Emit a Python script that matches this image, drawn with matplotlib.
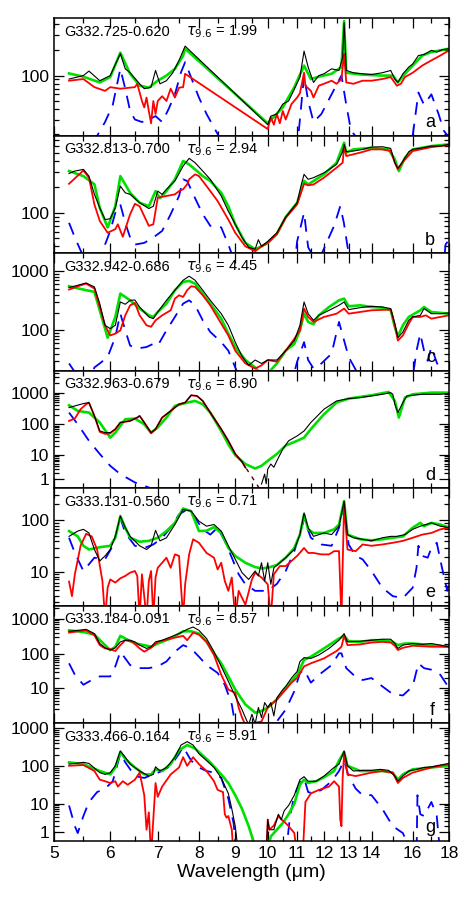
import numpy as np
import matplotlib
matplotlib.use("Agg")
import matplotlib.pyplot as plt
from matplotlib.ticker import FixedLocator, NullFormatter, FixedFormatter

plt.rcParams["font.family"] = ["Liberation Sans", "DejaVu Sans"]
plt.rcParams["mathtext.fontset"] = "dejavusans"

# ---- panel metadata ----
names = ["G332.725-0.620", "G332.813-0.700", "G332.942-0.686", "G332.963-0.679",
         "G333.131-0.560", "G333.184-0.091", "G333.466-0.164"]
taus = ["1.99", "2.94", "4.45", "6.90", "0.71", "6.57", "5.91"]
letters = ["a", "b", "c", "d", "e", "f", "g"]
ylims = [(19, 470), (33, 790), (20, 2000), (0, 4800), (1.56, 400), (0.14, 2300), (0.2, 1300)]
yticks = [[100], [100], [100, 1000], [1, 10, 100, 1000], [10, 100], [10, 100, 1000], [1, 10, 100, 1000]]
xticks = [5, 6, 7, 8, 9, 10, 11, 12, 13, 14, 16, 18]
xminor = [5.5, 6.5, 7.5, 8.5, 9.5, 10.5, 11.5, 12.5, 13.5, 15, 17]

# ---- spectra: (wavelength um, flux) ----
a_black = [(5.25, 91), (5.5, 100), (5.6, 113), (5.8, 87), (6.0, 100), (6.2, 181), (6.3, 120), (6.4, 108),
           (6.6, 80), (6.7, 70), (6.85, 73), (6.95, 115), (7.05, 80), (7.2, 87), (7.35, 108), (7.5, 151),
           (7.65, 222), (10.0, 26), (10.1, 33), (10.3, 35), (10.5, 46), (10.7, 50), (10.9, 69), (11.1, 96),
           (11.25, 194), (11.4, 126), (11.6, 83), (11.8, 100), (12.0, 105), (12.3, 120), (12.6, 115),
           (12.75, 165), (12.81, 416), (12.9, 115), (13.2, 108), (13.6, 105), (14.0, 103), (14.5, 108),
           (14.9, 115), (15.1, 91), (15.25, 83), (15.5, 105), (15.8, 126), (16.0, 137), (16.3, 172),
           (16.6, 177), (17.0, 198), (17.3, 189), (17.6, 201), (18.0, 207)]
a_green = [(5.25, 106), (5.5, 97), (5.8, 83), (6.0, 96), (6.2, 186), (6.4, 105), (6.6, 76), (6.8, 72),
           (7.0, 87), (7.2, 100), (7.4, 120), (7.6, 172), (7.65, 207), (10.0, 27), (10.5, 42), (10.9, 73),
           (11.25, 131), (11.5, 91), (11.8, 97), (12.3, 105), (12.7, 126), (12.81, 436), (12.9, 108),
           (13.5, 103), (14.5, 100), (15.0, 100), (15.25, 83), (15.6, 105), (16.0, 131), (16.5, 172),
           (17.0, 189), (17.5, 198), (18.0, 207)]
a_red = [(5.25, 87), (5.5, 91), (5.7, 73), (5.9, 66), (6.0, 73), (6.2, 70), (6.4, 72), (6.5, 73), (6.55, 80),
         (6.65, 50), (6.7, 42), (6.75, 55), (6.8, 38), (6.85, 27), (6.9, 50), (6.95, 35), (7.0, 50), (7.1, 57),
         (7.2, 50), (7.3, 70), (7.4, 55), (7.5, 72), (7.6, 73), (7.65, 105), (10.0, 23), (10.1, 32), (10.2, 26),
         (10.3, 35), (10.4, 27), (10.5, 38), (10.6, 30), (10.8, 46), (11.0, 55), (11.1, 62), (11.25, 108),
         (11.3, 76), (11.5, 66), (11.6, 55), (11.8, 76), (12.0, 80), (12.3, 87), (12.5, 80), (12.7, 91),
         (12.81, 181), (12.9, 83), (13.2, 80), (13.6, 87), (14.0, 87), (14.5, 91), (14.9, 96), (15.2, 76),
         (15.4, 80), (15.6, 96), (16.0, 108), (16.5, 131), (17.0, 151), (17.5, 172), (18.0, 198)]
a_blue = [(5.6, 8), (5.75, 19), (5.9, 28), (6.05, 45), (6.2, 120), (6.3, 70), (6.4, 38), (6.5, 30), (6.65, 28),
          (6.8, 30), (6.95, 33), (7.1, 28), (7.25, 40), (7.4, 60), (7.55, 110), (7.65, 144), (7.8, 95),
          (8.0, 55), (8.2, 35), (8.5, 20), (8.8, 10), (10.8, 8), (11.05, 20), (11.25, 100), (11.4, 50),
          (11.6, 28), (11.9, 35), (12.3, 60), (12.7, 100), (12.9, 45), (13.1, 22), (13.5, 16), (14.0, 18),
          (14.5, 12), (15.5, 10), (16.0, 19), (16.3, 63), (16.6, 45), (17.0, 60), (17.4, 35), (17.7, 22),
          (18.0, 18)]

b_black = [(5.25, 288), (5.35, 307), (5.5, 321), (5.6, 268), (5.7, 164), (5.8, 114), (5.9, 83), (6.0, 85),
           (6.1, 114), (6.2, 205), (6.3, 171), (6.4, 164), (6.6, 131), (6.8, 112), (6.9, 119), (7.0, 179),
           (7.1, 164), (7.2, 188), (7.4, 235), (7.6, 351), (7.75, 432), (7.9, 384), (8.1, 307), (8.3, 246),
           (8.6, 157), (8.8, 104), (9.0, 73), (9.2, 51), (9.4, 39), (9.6, 37), (9.7, 48), (9.8, 40), (10.0, 46),
           (10.3, 58), (10.6, 89), (11.0, 131), (11.15, 214), (11.25, 281), (11.4, 246), (11.6, 257),
           (12.0, 293), (12.5, 367), (12.75, 516), (12.81, 629), (12.9, 516), (13.2, 525), (13.6, 549),
           (14.0, 584), (14.5, 590), (14.9, 564), (15.1, 384), (15.25, 330), (15.5, 401), (15.8, 516),
           (16.0, 549), (16.5, 572), (17.0, 600), (17.5, 600), (18.0, 629)]
b_green = [(5.25, 307), (5.5, 268), (5.7, 215), (5.8, 114), (5.95, 67), (6.1, 119), (6.2, 268), (6.4, 171),
           (6.6, 131), (6.8, 119), (6.95, 179), (7.05, 148), (7.2, 179), (7.4, 246), (7.6, 402), (7.75, 367),
           (7.9, 321), (8.1, 268), (8.3, 235), (8.6, 171), (8.8, 119), (9.0, 73), (9.3, 44), (9.6, 37),
           (9.8, 40), (10.0, 44), (10.3, 56), (10.6, 89), (11.0, 131), (11.25, 235), (11.4, 214), (11.6, 235),
           (12.0, 281), (12.5, 384), (12.81, 657), (12.9, 504), (13.2, 549), (14.0, 572), (14.8, 549),
           (15.1, 420), (15.3, 307), (15.6, 439), (16.0, 549), (17.0, 600), (18.0, 629)]
b_red = [(5.25, 218), (5.5, 312), (5.6, 257), (5.7, 125), (5.8, 80), (5.95, 58), (6.1, 64), (6.15, 73),
         (6.25, 52), (6.4, 96), (6.5, 127), (6.6, 119), (6.8, 70), (6.9, 73), (7.0, 150), (7.2, 157), (7.4, 164),
         (7.5, 179), (7.6, 188), (7.7, 215), (7.75, 246), (7.9, 281), (8.0, 268), (8.2, 205), (8.5, 137),
         (8.8, 83), (9.0, 58), (9.3, 40), (9.6, 35), (9.8, 40), (10.0, 44), (10.3, 56), (10.6, 87), (11.0, 125),
         (11.25, 218), (11.4, 209), (11.6, 214), (12.0, 257), (12.5, 336), (12.75, 384), (12.81, 600),
         (12.9, 459), (13.5, 504), (14.0, 549), (14.5, 549), (14.9, 525), (15.1, 384), (15.25, 321),
         (15.5, 393), (16.0, 525), (17.0, 584), (18.0, 617)]
b_blue = [(5.25, 76), (5.35, 51), (5.5, 30), (5.8, 10), (5.9, 42), (6.0, 61), (6.1, 100), (6.2, 125), (6.3, 76),
          (6.4, 51), (6.5, 42), (6.7, 44), (6.9, 51), (7.1, 61), (7.3, 96), (7.5, 157), (7.6, 246), (7.7, 235),
          (7.9, 148), (8.1, 96), (8.3, 70), (8.5, 70), (8.6, 67), (8.8, 42), (9.0, 25), (10.8, 10), (11.0, 46),
          (11.25, 100), (11.4, 39), (11.6, 30), (11.9, 32), (12.4, 70), (12.65, 119), (12.8, 76), (12.95, 40),
          (13.1, 25), (17.7, 25), (17.8, 42), (18.0, 48)]

c_black = [(5.25, 530), (5.4, 580), (5.55, 634), (5.7, 544), (5.8, 284), (5.9, 122), (6.0, 107), (6.1, 122),
           (6.2, 303), (6.3, 277), (6.4, 323), (6.5, 327), (6.6, 249), (6.8, 169), (6.9, 158), (7.0, 205),
           (7.2, 323), (7.4, 478), (7.6, 705), (7.75, 824), (7.9, 705), (8.1, 478), (8.3, 323), (8.6, 192),
           (8.8, 122), (9.0, 63), (9.2, 36), (9.4, 25), (9.6, 31), (9.8, 27), (10.0, 31), (10.3, 31), (10.6, 45),
           (10.9, 67), (11.1, 122), (11.25, 303), (11.4, 192), (11.6, 148), (11.8, 180), (12.2, 219),
           (12.6, 266), (12.81, 303), (13.0, 225), (13.5, 243), (14.0, 256), (14.5, 249), (14.9, 234),
           (15.1, 130), (15.25, 75), (15.5, 94), (15.8, 148), (16.0, 169), (16.4, 180), (16.6, 234),
           (17.0, 192), (17.5, 192), (18.0, 197)]
c_green = [(5.25, 558), (5.5, 490), (5.7, 448), (5.8, 219), (5.95, 75), (6.1, 169), (6.2, 419), (6.4, 323),
           (6.6, 234), (6.8, 180), (6.9, 169), (7.0, 205), (7.2, 284), (7.4, 478), (7.6, 660), (7.75, 686),
           (7.9, 618), (8.1, 419), (8.3, 284), (8.6, 158), (8.8, 88), (9.0, 52), (9.3, 31), (9.6, 23), (9.8, 17),
           (10.0, 18), (10.3, 27), (10.6, 45), (10.9, 59), (11.1, 100), (11.25, 192), (11.4, 139), (11.6, 127),
           (11.8, 180), (12.2, 249), (12.6, 323), (12.81, 345), (13.0, 256), (13.5, 266), (14.0, 249),
           (14.5, 243), (14.9, 219), (15.1, 114), (15.25, 79), (15.5, 122), (15.8, 169), (16.4, 219),
           (16.6, 249), (17.0, 205), (18.0, 192)]
c_red = [(5.25, 490), (5.4, 558), (5.55, 618), (5.7, 510), (5.8, 249), (5.9, 122), (6.0, 82), (6.1, 88),
         (6.2, 100), (6.3, 180), (6.4, 266), (6.5, 292), (6.6, 180), (6.75, 122), (6.85, 115), (6.95, 148),
         (7.1, 180), (7.3, 219), (7.4, 345), (7.5, 393), (7.6, 368), (7.7, 478), (7.8, 558), (7.9, 544),
         (8.1, 393), (8.3, 266), (8.6, 130), (8.8, 82), (9.0, 45), (9.3, 27), (9.6, 22), (9.8, 25), (10.0, 31),
         (10.3, 29), (10.6, 45), (10.9, 72), (11.1, 100), (11.25, 234), (11.4, 169), (11.6, 139), (12.0, 169),
         (12.5, 192), (12.81, 234), (13.0, 192), (14.0, 219), (14.9, 225), (15.1, 122), (15.25, 67),
         (15.5, 82), (15.8, 130), (16.0, 169), (16.4, 169), (16.7, 180), (17.0, 158), (17.5, 169), (18.0, 180)]
c_blue = [(5.25, 27), (5.35, 19), (5.6, 12), (5.7, 23), (5.8, 27), (5.95, 35), (6.1, 77), (6.2, 192), (6.3, 100),
          (6.4, 55), (6.55, 49), (6.75, 52), (6.9, 59), (7.0, 55), (7.2, 100), (7.4, 169), (7.6, 284),
          (7.75, 323), (7.9, 266), (8.1, 148), (8.3, 94), (8.6, 63), (8.8, 45), (9.0, 23), (9.2, 12), (10.8, 12),
          (11.0, 29), (11.25, 63), (11.4, 31), (11.6, 22), (11.9, 27), (12.3, 40), (12.6, 139), (12.81, 67),
          (13.0, 35), (13.3, 21), (13.8, 15), (14.3, 22), (14.6, 15), (16.0, 15), (16.2, 45), (16.4, 88),
          (16.6, 45), (16.8, 30), (17.0, 52), (17.3, 28), (17.6, 17), (18.0, 12)]

d_black = [(5.25, 340), (5.35, 383), (5.5, 453), (5.6, 487), (5.7, 186), (5.8, 62), (5.9, 55), (6.0, 55),
           (6.1, 71), (6.2, 115), (6.4, 129), (6.55, 165), (6.6, 186), (6.7, 115), (6.85, 55), (6.95, 71),
           (7.1, 165), (7.3, 267), (7.5, 432), (7.65, 487), (7.8, 825), (7.95, 787), (8.1, 548), (8.3, 236),
           (8.6, 71), (8.8, 30), (9.0, 11), (9.2, 5.8), (9.3, 3.5), (9.35, np.nan), (9.75, np.nan), (9.8, 0.37),
           (9.9, 1.8), (9.95, 0.4), (10.0, 3.0), (10.1, 4.8), (10.2, 3.6), (10.3, 6.3), (10.5, 16), (10.7, 30),
           (11.0, 43), (11.25, 62), (11.5, 115), (12.0, 301), (12.5, 548), (13.0, 650), (13.5, 698),
           (14.0, 787), (14.5, 887), (14.9, 1000), (15.0, 887), (15.1, 432), (15.25, 236), (15.5, 487),
           (15.7, 787), (16.0, 825), (16.5, 887), (17.0, 887), (17.5, 887), (18.0, 953)]
d_gap = [(9.33, 3.2), (9.42, 2.0), (9.5, 1.3), (9.58, 0.7), (9.66, 0.3), (9.73, 0.0)]
d_green = [(5.25, 401), (5.4, 267), (5.6, 236), (5.8, 115), (6.0, 38), (6.1, 55), (6.3, 146), (6.5, 153),
           (6.7, 101), (6.85, 55), (7.0, 80), (7.2, 165), (7.4, 383), (7.7, 487), (7.9, 548), (8.1, 432),
           (8.3, 236), (8.6, 62), (8.8, 23), (9.0, 10), (9.3, 4.8), (9.6, 3.2), (9.8, 4.1), (10.0, 6.3),
           (10.3, 11), (10.6, 21), (11.0, 30), (11.25, 38), (11.5, 71), (12.0, 209), (12.5, 487), (13.0, 650),
           (14.0, 825), (14.8, 1049), (15.1, 548), (15.3, 165), (15.6, 698), (16.0, 887), (17.0, 1000),
           (18.0, 1000)]
d_red = [(5.25, 129), (5.35, 153), (5.45, 301), (5.55, 432), (5.6, 487), (5.7, 186), (5.8, 58), (5.9, 50),
         (6.0, 52), (6.1, 71), (6.2, 115), (6.4, 129), (6.55, 165), (6.6, 186), (6.7, 115), (6.85, 52),
         (6.95, 71), (7.1, 165), (7.3, 267), (7.5, 432), (7.65, 487), (7.8, 825), (7.95, 787), (8.1, 548),
         (8.3, 236), (8.6, 71), (8.8, 30), (9.0, 11), (9.2, 5.8), (9.3, 3.5)]
d_blue = [(5.25, 236), (5.4, 101), (5.6, 30), (5.8, 11), (6.0, 4.1), (6.2, 1.8), (6.5, 0.54), (6.8, 0.07),
          (7.0, -0.5)]

e_black = [(5.25, 50), (5.4, 63), (5.5, 68), (5.6, 58), (5.7, 28), (5.8, 16.7), (5.9, 21), (6.0, 28), (6.1, 50),
           (6.2, 121), (6.3, 73), (6.4, 50), (6.6, 33), (6.75, 28), (6.85, 33), (6.95, 65), (7.05, 41),
           (7.2, 47), (7.4, 84), (7.6, 161), (7.8, 150), (8.0, 97), (8.2, 78), (8.4, 84), (8.6, 63), (8.8, 33),
           (9.0, 18), (9.2, 9.7), (9.4, 7.0), (9.6, 10.5), (9.7, 8.3), (9.8, 15.4), (9.9, 6.5), (10.0, 15.4),
           (10.1, 5.5), (10.2, 12.2), (10.4, 15.4), (10.6, 19.4), (10.9, 28), (11.1, 54), (11.25, 139),
           (11.4, 73), (11.6, 50), (12.0, 58), (12.3, 54), (12.6, 78), (12.81, 231), (12.95, 54), (13.2, 47),
           (13.6, 44), (14.0, 41), (14.5, 47), (14.9, 50), (15.2, 50), (15.6, 54), (16.0, 68), (16.4, 78),
           (16.7, 84), (17.0, 90), (17.5, 78), (18.0, 73)]
e_green = [(5.25, 63), (5.4, 50), (5.5, 33), (5.6, 28), (5.8, 31), (6.0, 33), (6.1, 47), (6.2, 121), (6.3, 73),
           (6.4, 47), (6.6, 39.5), (6.8, 41), (7.0, 47), (7.2, 63), (7.4, 90), (7.6, 168), (7.8, 150), (8.0, 63),
           (8.2, 64), (8.4, 75), (8.6, 58), (8.8, 30), (9.0, 21), (9.3, 15.4), (9.6, 12.6), (9.8, 11.9),
           (10.0, 12.2), (10.3, 13.9), (10.6, 19.4), (10.9, 30), (11.1, 54), (11.25, 130), (11.4, 68),
           (11.6, 58), (12.0, 58), (12.4, 68), (12.6, 84), (12.81, 231), (12.95, 54), (13.5, 44), (14.0, 42),
           (14.5, 44), (15.0, 47), (15.5, 50), (16.0, 73), (16.4, 90), (16.6, 78), (17.0, 90), (17.5, 84),
           (18.0, 73)]
e_red = [(5.25, 6.3), (5.3, 2.9), (5.35, 9.0), (5.45, 33), (5.55, 56), (5.65, 50), (5.75, 28), (5.85, 6.5),
         (5.9, 0.5), (5.95, 4.6), (6.0, 7.0), (6.1, 6.0), (6.2, 7.4), (6.3, 8.3), (6.4, 9.7), (6.5, 10.5),
         (6.55, 8.3), (6.6, 0.5), (6.65, 9.0), (6.75, 0.5), (6.8, 6.5), (6.85, 10.5), (6.9, 0.5), (6.95, 7.7),
         (7.0, 12.2), (7.1, 15.4), (7.2, 19.4), (7.3, 12.2), (7.4, 22.5), (7.5, 21), (7.55, 4.6), (7.6, 0.5),
         (7.65, 5.5), (7.75, 22.5), (7.85, 44), (8.0, 37.7), (8.2, 24), (8.4, 19.4), (8.5, 11.3), (8.6, 15.4),
         (8.7, 6.5), (8.8, 3.9), (8.9, 7.7), (9.0, 0.5), (9.1, 3.9), (9.3, 1.7), (9.5, 7.0), (9.6, 9.7),
         (9.8, 7.7), (10.0, 5.5), (10.1, 0.5), (10.2, 9.0), (10.4, 13.2), (10.6, 13.2), (10.8, 16.7),
         (11.0, 21), (11.25, 30), (11.4, 24), (11.6, 24), (11.9, 22.5), (12.2, 22.5), (12.4, 26), (12.6, 26),
         (12.7, 0.5), (12.81, 215), (12.95, 28), (13.3, 26), (13.6, 35), (14.0, 33), (14.5, 35), (15.0, 37.7),
         (15.5, 41), (16.0, 47), (16.5, 54), (17.0, 58), (17.5, 68), (18.0, 73)]
e_blue = [(5.25, 47), (5.35, 24), (5.5, 10.5), (5.7, 19.4), (5.9, 18), (6.05, 33), (6.2, 112), (6.3, 58),
          (6.5, 33), (6.7, 30), (6.9, 35), (7.1, 47), (7.3, 73), (7.5, 130), (7.7, 161), (7.9, 112), (8.1, 68),
          (8.3, 54), (8.5, 73), (8.7, 41), (8.9, 19.4), (9.1, 9.0), (9.3, 5.5), (9.6, 3.9), (10.0, 3.9),
          (10.3, 5.6), (10.6, 10.5), (10.9, 26), (11.25, 104), (11.5, 47), (11.9, 35), (12.3, 33), (12.6, 73),
          (12.81, 186), (13.0, 35), (13.3, 21), (13.6, 18), (14.0, 10.5), (14.5, 4.6), (15.0, 2.9), (15.5, 2.6),
          (16.0, 4.6), (16.2, 12.2), (16.3, 33), (16.5, 21), (16.8, 19.4), (17.0, 30), (17.3, 37.7),
          (17.6, 12), (17.9, 3.9), (18.0, 5.5)]

f_black = [(5.25, 444), (5.4, 473), (5.55, 504), (5.7, 383), (5.8, 201), (5.9, 152), (6.0, 131), (6.1, 152),
           (6.2, 224), (6.3, 249), (6.4, 249), (6.5, 224), (6.6, 181), (6.75, 146), (6.85, 163), (6.95, 224),
           (7.1, 249), (7.3, 309), (7.5, 383), (7.7, 504), (7.85, 587), (8.0, 473), (8.2, 278), (8.4, 118),
           (8.6, 45), (8.8, 16.5), (9.0, 5.7), (9.2, 1.8), (9.3, 0.67), (9.4, 0.05), (9.5, 1.07), (9.6, 0.1),
           (9.7, 2.2), (9.8, 0.67), (9.9, 3.4), (10.0, 2.2), (10.1, 3.4), (10.2, 0.86), (10.3, 5.0),
           (10.5, 9.2), (10.6, 11.6), (10.8, 20.6), (11.0, 32), (11.1, 62), (11.25, 80), (11.5, 76),
           (11.8, 95), (12.2, 146), (12.6, 249), (12.81, 383), (12.95, 224), (13.5, 234), (14.0, 249),
           (14.5, 266), (14.9, 266), (15.1, 201), (15.25, 146), (15.5, 181), (16.0, 201), (16.5, 190),
           (17.0, 201), (17.5, 181), (18.0, 163)]
f_green = [(5.25, 473), (5.5, 426), (5.7, 359), (5.9, 181), (6.0, 131), (6.1, 163), (6.2, 330), (6.3, 278),
           (6.5, 201), (6.7, 181), (6.85, 163), (7.0, 201), (7.3, 278), (7.6, 444), (7.8, 444), (8.0, 383),
           (8.2, 224), (8.4, 106), (8.6, 55), (8.8, 23), (9.0, 9.2), (9.3, 2.9), (9.6, 1.3), (9.8, 1.56),
           (10.0, 2.2), (10.3, 4.4), (10.6, 10.4), (11.0, 25.7), (11.25, 69), (11.5, 85), (12.0, 146),
           (12.6, 278), (12.81, 330), (13.0, 234), (13.5, 224), (14.0, 249), (14.5, 249), (15.0, 224),
           (15.25, 181), (15.6, 201), (16.0, 201), (17.0, 181), (18.0, 163)]
f_red = [(5.25, 408), (5.4, 444), (5.55, 473), (5.7, 343), (5.8, 181), (5.9, 146), (6.0, 140), (6.1, 123),
         (6.2, 181), (6.3, 249), (6.45, 224), (6.6, 146), (6.7, 118), (6.85, 152), (7.0, 224), (7.3, 278),
         (7.6, 330), (7.7, 249), (7.85, 408), (8.0, 359), (8.2, 224), (8.4, 95), (8.6, 25.7), (8.8, 9.2),
         (9.0, 7.3), (9.1, 2.2), (9.2, 0.67), (9.3, 0.05), (9.8, 0.3), (10.0, 2.2), (10.3, 4.4), (10.6, 9.2),
         (10.8, 15), (11.0, 20.6), (11.25, 45), (11.5, 55), (12.0, 76), (12.5, 123), (12.7, 163), (12.81, 330),
         (12.95, 181), (13.5, 190), (14.0, 214), (14.5, 224), (14.9, 214), (15.1, 174), (15.25, 131),
         (15.5, 152), (16.0, 174), (17.0, 163), (18.0, 163)]
f_blue = [(5.25, 55), (5.35, 25.7), (5.5, 13), (5.65, 18), (5.8, 23), (6.0, 23), (6.1, 45), (6.2, 118), (6.3, 76),
          (6.4, 49), (6.55, 40), (6.8, 40), (7.0, 45), (7.2, 62), (7.4, 118), (7.6, 181), (7.8, 146), (8.0, 85),
          (8.2, 49), (8.5, 29), (8.7, 13), (8.9, 2.9), (9.0, 0.05), (10.0, 0.05), (10.3, 0.3), (10.6, 1.8),
          (10.9, 8.2), (11.1, 29), (11.25, 36), (11.5, 15), (11.9, 29), (12.3, 49), (12.6, 106), (12.7, 106),
          (12.9, 40), (13.2, 25.7), (13.6, 18), (14.0, 20.6), (14.5, 11.6), (15.0, 6.6), (15.5, 6.0),
          (16.0, 11.6), (16.3, 55), (16.6, 40), (17.0, 36), (17.5, 25.7), (18.0, 10.4)]

g_black = [(5.25, 115), (5.5, 128), (5.6, 120), (5.8, 69), (5.9, 62), (6.0, 69), (6.1, 104), (6.2, 253),
           (6.3, 174), (6.4, 115), (6.6, 76), (6.8, 56), (6.9, 62), (6.95, 98), (7.05, 76), (7.2, 94), (7.4, 174),
           (7.55, 360), (7.7, 441), (7.85, 360), (8.0, 214), (8.2, 142), (8.4, 94), (8.6, 50), (8.8, 19.3),
           (8.9, 7.1), (9.0, 1.9), (9.1, -0.5), (9.95, -0.5), (10.0, 3.3), (10.05, 1.35), (10.2, 1.35),
           (10.35, 4.9), (10.45, 3.3), (10.55, 6.3), (10.7, 8.9), (10.9, 17.3), (11.1, 45), (11.25, 54),
           (11.4, 41), (11.7, 41), (12.0, 56), (12.4, 94), (12.6, 115), (12.81, 253), (12.95, 104), (13.2, 76),
           (13.6, 79), (14.0, 79), (14.4, 84), (14.8, 79), (15.1, 56), (15.25, 41), (15.5, 56), (15.8, 76),
           (16.2, 84), (16.6, 94), (17.0, 98), (17.5, 109), (18.0, 120)]
g_green = [(5.25, 128), (5.5, 115), (5.8, 76), (6.0, 62), (6.1, 94), (6.2, 238), (6.3, 157), (6.5, 94),
           (6.7, 62), (6.85, 62), (6.95, 84), (7.1, 76), (7.3, 115), (7.5, 264), (7.7, 360), (7.9, 292),
           (8.1, 193), (8.3, 128), (8.6, 62), (8.8, 36.7), (9.0, 17.3), (9.2, 7.1), (9.4, 1.9), (9.5, 0.57),
           (9.7, -0.5), (9.95, -0.5), (10.1, 0.57), (10.3, 1.35), (10.5, 2.5), (10.7, 4.9), (10.9, 10),
           (11.1, 33), (11.25, 45), (11.4, 37), (11.7, 41), (12.0, 52), (12.4, 76), (12.6, 142), (12.81, 238),
           (12.95, 104), (13.5, 76), (14.0, 76), (14.5, 76), (15.0, 69), (15.25, 45), (15.5, 62), (16.0, 84),
           (17.0, 94), (18.0, 104)]
g_red = [(5.25, 104), (5.5, 109), (5.7, 76), (5.8, 45), (5.9, 41), (6.0, 36.7), (6.1, 41), (6.15, 29.5),
         (6.25, 41), (6.35, 33), (6.5, 45), (6.6, 69), (6.7, 17.3), (6.75, 1.35), (6.8, 5.6), (6.85, -0.5),
         (6.95, 36.7), (7.0, 15.6), (7.1, 29.5), (7.3, 62), (7.5, 94), (7.6, 174), (7.7, 104), (7.85, 174),
         (8.0, 115), (8.2, 76), (8.4, 41), (8.5, 24), (8.65, 21), (8.7, 4.9), (8.75, 3.8), (8.8, 4.3),
         (8.9, 1.35), (8.95, -0.5), (9.95, -0.5), (10.0, 3.3), (10.05, 1.35), (10.2, 2.0), (10.35, 4.3),
         (10.45, 3.3), (10.55, 2.8), (10.7, 1.9), (10.9, 0.92), (11.0, -0.5), (11.2, -0.5), (11.3, 11.2),
         (11.5, 19.3), (11.8, 24), (12.2, 29.5), (12.4, 41), (12.6, 29.5), (12.65, 3.3), (12.7, 1.9),
         (12.75, 50), (12.81, 214), (12.95, 62), (13.3, 56), (14.0, 69), (14.5, 76), (15.0, 69), (15.25, 36.7),
         (15.5, 50), (16.0, 69), (17.0, 94), (18.0, 115)]
g_blue = [(5.25, 8.9), (5.35, 1.9), (5.4, 0.92), (5.5, 4.3), (5.6, 11.2), (5.75, 21), (5.9, 26), (6.05, 41),
          (6.2, 214), (6.3, 128), (6.5, 56), (6.7, 50), (6.9, 62), (7.1, 76), (7.3, 104), (7.5, 214), (7.6, 324),
          (7.8, 142), (8.0, 94), (8.2, 76), (8.4, 69), (8.6, 50), (8.8, 14), (8.95, 2.5), (9.05, -0.5),
          (10.6, -0.5), (10.75, 4.3), (10.9, 17.3), (11.1, 36.7), (11.25, 50), (11.4, 21), (11.6, 19.3),
          (11.9, 24), (12.3, 41), (12.6, 76), (12.81, 142), (13.0, 56), (13.3, 26), (13.6, 17.3), (14.0, 17.3),
          (14.5, 7.1), (15.0, 1.9), (15.5, 0.92), (16.0, -0.5), (16.2, -0.5), (16.25, 17.3), (16.4, 4.9),
          (16.6, 4.3), (16.8, 7.1), (17.0, 11.2), (17.3, 4.3), (17.5, -0.5), (18.0, -0.5)]

panels = [
    (a_black, a_green, a_red, a_blue),
    (b_black, b_green, b_red, b_blue),
    (c_black, c_green, c_red, c_blue),
    (d_black, d_green, d_red, d_blue),
    (e_black, e_green, e_red, e_blue),
    (f_black, f_green, f_red, f_blue),
    (g_black, g_green, g_red, g_blue),
]


def fwd(y):
    y = np.asarray(y, dtype=float)
    return np.log10(1.0 + np.maximum(y, -0.9))


def inv(u):
    return 10.0 ** np.asarray(u, dtype=float) - 1.0


def xy(pairs):
    w, f = zip(*pairs)
    return np.array(w, dtype=float), np.array(f, dtype=float)


fig, axes = plt.subplots(7, 1, figsize=(4.58, 9.15), dpi=100, sharex=True)
fig.subplots_adjust(left=54 / 458, right=449 / 458, top=1 - 18.3 / 915, bottom=1 - 841 / 915, hspace=0)

for i, ax in enumerate(axes):
    blk, grn, red, blu = panels[i]
    ax.set_yscale("function", functions=(fwd, inv))
    ax.set_xscale("log")
    ax.plot(*xy(blu), color="#0000ff", lw=1.3, dashes=(7, 5))
    ax.plot(*xy(grn), color="#00e000", lw=1.9)
    ax.plot(*xy(red), color="#ff0000", lw=1.3)
    if i == 3:
        ax.plot(*xy(d_gap), color="#5a0000", lw=1.0, dashes=(3, 4))
    ax.plot(*xy(blk), color="black", lw=0.8)

    ax.set_xlim(5, 18)
    ax.set_ylim(*ylims[i])

    lo, hi = ylims[i]
    ax.yaxis.set_major_locator(FixedLocator(yticks[i]))
    ax.yaxis.set_major_formatter(FixedFormatter([str(t) for t in yticks[i]]))
    # minor ticks only from 2 upward (none below 1)
    minors = [m * 10 ** k for k in range(0, 4) for m in range(2, 10) if lo < m * 10 ** k < hi]
    ax.yaxis.set_minor_locator(FixedLocator(minors))
    ax.yaxis.set_minor_formatter(NullFormatter())

    ax.xaxis.set_major_locator(FixedLocator(xticks))
    ax.xaxis.set_major_formatter(FixedFormatter([str(t) for t in xticks]))
    ax.xaxis.set_minor_locator(FixedLocator(xminor))
    ax.xaxis.set_minor_formatter(NullFormatter())

    ax.tick_params(which="both", direction="in", top=True, right=True, labelsize=12.5, width=0.9)
    ax.tick_params(which="major", length=7)
    ax.tick_params(which="minor", length=3.5)
    for s in ax.spines.values():
        s.set_linewidth(1.1)

    ax.text(0.025, 0.885, names[i], transform=ax.transAxes, fontsize=10.5, va="center", ha="left")
    ax.text(0.335, 0.885, r"$\tau_{9.6}$ = " + taus[i], transform=ax.transAxes, fontsize=10.5,
            va="center", ha="left")
    ax.text(0.965, 0.04, letters[i], transform=ax.transAxes, fontsize=13, va="bottom", ha="right")

axes[-1].set_xlabel("Wavelength (\u03bcm)", fontsize=14, labelpad=2)

fig.savefig("out.png", dpi=100)
